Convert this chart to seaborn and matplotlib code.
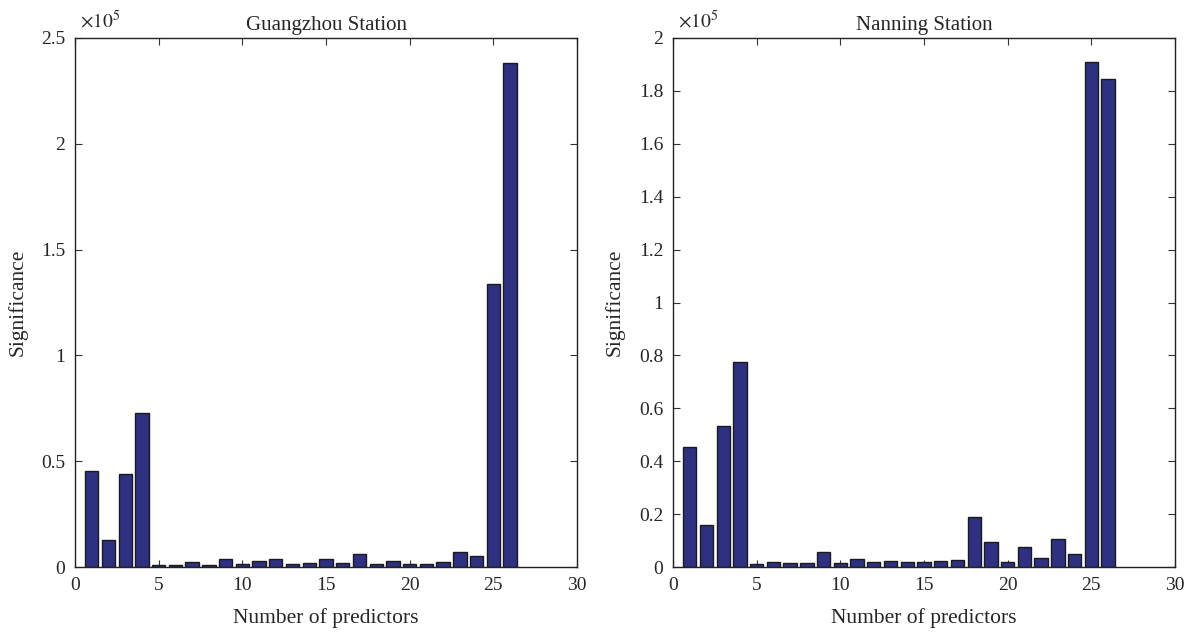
import seaborn as sns
import matplotlib.pyplot as plt
import pandas as pd
from matplotlib.ticker import FuncFormatter, MultipleLocator

predictors = list(range(1, 27))

guangzhou = [45400, 12800, 44000, 72800, 1100, 1100, 2500, 900, 3600, 1600,
             2700, 3800, 1300, 2000, 3600, 1900, 6100, 1400, 2700, 1400,
             1400, 2400, 7000, 5000, 133700, 238000]

nanning = [45400, 15900, 53300, 77500, 1300, 2000, 1400, 1400, 5700, 1500,
           3000, 1900, 2300, 2000, 1900, 2300, 2500, 18800, 9300, 2000,
           7400, 3300, 10600, 5000, 190900, 184500]

sns.set_style('ticks')
plt.rcParams['font.family'] = ['Liberation Serif', 'DejaVu Serif']
plt.rcParams['mathtext.fontset'] = 'stix'

fig = plt.figure(figsize=(11.92, 6.33), dpi=100)
ax1 = fig.add_axes([75 / 1192, 1 - 567 / 633, 502 / 1192, 529 / 633])
ax2 = fig.add_axes([673 / 1192, 1 - 567 / 633, 502 / 1192, 529 / 633])

panels = [
    (ax1, guangzhou, 'Guangzhou Station', 2.5e5, 0.5e5),
    (ax2, nanning, 'Nanning Station', 2e5, 0.2e5),
]

for ax, vals, title, ymax, step in panels:
    df = pd.DataFrame({'n': predictors, 'sig': vals})
    sns.barplot(data=df, x='n', y='sig', native_scale=True, width=0.8,
                color='#2e3081', saturation=1, edgecolor='#1a1a1a',
                linewidth=1.0, ax=ax)
    ax.set_xlim(0, 30)
    ax.set_ylim(0, ymax)
    ax.xaxis.set_major_locator(MultipleLocator(5))
    ax.yaxis.set_major_locator(MultipleLocator(step))
    ax.yaxis.set_major_formatter(FuncFormatter(lambda v, p: '%g' % round(v / 1e5, 2)))
    ax.tick_params(direction='in', top=True, right=True, labelsize=14,
                   length=5, width=0.8, color='#333333')
    ax.tick_params(axis='x', pad=7)
    ax.tick_params(axis='y', pad=7)
    for s in ax.spines.values():
        s.set_visible(True)
        s.set_linewidth(1.0)
        s.set_color('#222222')
    ax.set_title(title, fontsize=15, pad=6)
    ax.set_xlabel('Number of predictors', fontsize=15.5, labelpad=10)
    ax.set_ylabel('Significance', fontsize=15.5, labelpad=10)
    ax.text(0.01, 1.012, r'$\times10^{5}$', transform=ax.transAxes,
            fontsize=14, ha='left', va='bottom')

fig.savefig('out.png', dpi=100)
